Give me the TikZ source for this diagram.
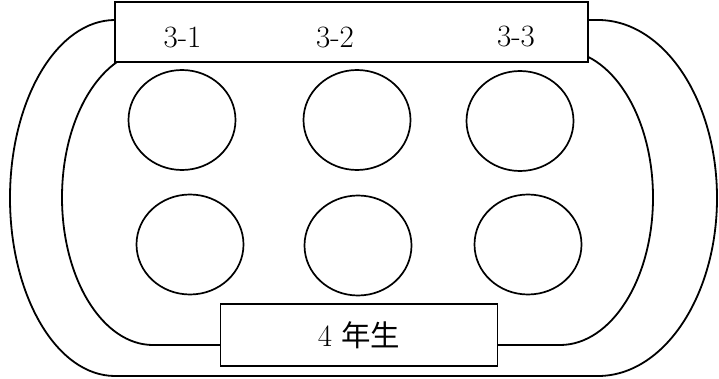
\documentclass[tikz,border=0pt]{standalone}
\usepackage{fontspec}
\newfontfamily\cjk[Scale=0.95]{Noto Sans CJK JP}
\usetikzlibrary{shapes.geometric}
\tikzset{
  track/.style={line width=1.8pt},
  box/.style={draw, line width=1.1pt, fill=white, rectangle, inner sep=0pt, outer sep=0pt},
  table/.style={draw, ellipse, line width=1.7pt, minimum width=107pt, minimum height=100pt, inner sep=0pt},
  lbl/.style={inner sep=0pt, font=\fontsize{31}{34}\selectfont}
}
\begin{document}
\begin{tikzpicture}[x=1pt,y=1pt]
\useasboundingbox (0,0) rectangle (719,378);
% outer track
\draw[track] (115,358) -- (598,358) arc[start angle=90,end angle=-90,x radius=119pt,y radius=178pt]
  -- (115,2) arc[start angle=270,end angle=90,x radius=105pt,y radius=178pt] -- cycle;
% inner track
\draw[track] (153,328) -- (560,328) arc[start angle=90,end angle=-90,x radius=93pt,y radius=147.5pt]
  -- (153,33) arc[start angle=270,end angle=90,x radius=91pt,y radius=147.5pt] -- cycle;
% boxes
\node[box, minimum width=473pt, minimum height=60pt] (top) at (351.5,346) {};
\node[box, minimum width=277pt, minimum height=62pt, lbl] (bottom) at (359,43) {4 {\cjk 年生}};
% labels
\node[lbl] (l1) at (182.5,340) {3-1};
\node[lbl] (l2) at (335,340) {3-2};
\node[lbl] (l3) at (516,341) {3-3};
% tables
\node[table] (c1) at (182,258) {};
\node[table] (c2) at (357,258) {};
\node[table] (c3) at (520,257) {};
\node[table] (c4) at (190,133.5) {};
\node[table] (c5) at (358,132.5) {};
\node[table] (c6) at (528,133.5) {};
\end{tikzpicture}
\end{document}
